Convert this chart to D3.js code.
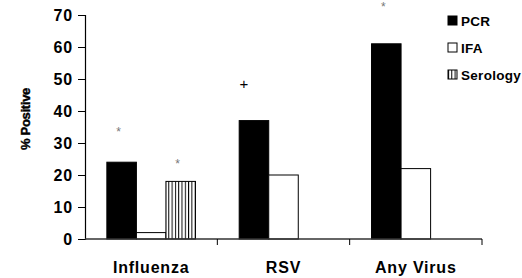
<!DOCTYPE html>
<html>
<head>
<meta charset="utf-8">
<script src="https://cdn.jsdelivr.net/npm/d3@7"></script>
<style>
  body { margin: 0; background: #fff; }
  text { font-family: "Liberation Sans", Arial, sans-serif; }
</style>
</head>
<body>
<div id="chart"></div>
<script>
var categories = ["Influenza", "RSV", "Any Virus"];
var seriesNames = ["PCR", "IFA", "Serology"];
var pcr = [24, 37, 61];
var ifa = [2, 20, 22];
var serology = [18, null, null];
var yTicks = [0, 10, 20, 30, 40, 50, 60, 70];
// significance marks: category, series, symbol, value level where the mark sits
var markCats = ["Influenza", "Influenza", "RSV", "Any Virus"];
var markSeries = ["PCR", "Serology", "PCR", "PCR"];
var markSymbols = ["*", "*", "+", "*"];
var markLevels = [34.4, 24.4, 48.4, 73.4];

var width = 522, height = 278;
var margin = {left: 85, right: 40, top: 15, bottom: 39};

var svg = d3.select("#chart").append("svg")
  .attr("width", width)
  .attr("height", height);

var defs = svg.append("defs");
var pat = defs.append("pattern")
  .attr("id", "stripes")
  .attr("patternUnits", "userSpaceOnUse")
  .attr("width", 3.3)
  .attr("height", 10);
pat.append("rect").attr("width", 3.3).attr("height", 10).attr("fill", "#fff");
pat.append("rect").attr("x", 0).attr("width", 1).attr("height", 10).attr("fill", "#000");

var x = d3.scaleBand()
  .domain(categories)
  .range([margin.left, 482]);

var xs = d3.scaleBand()
  .domain(seriesNames)
  .range([0, x.bandwidth()])
  .paddingOuter(0.74)
  .paddingInner(0);

var y = d3.scaleLinear()
  .domain([0, 70])
  .range([239, 15]);

var fills = {PCR: "#000", IFA: "#fff", Serology: "url(#stripes)"};

var rows = [];
categories.forEach(function(c, i){
  rows.push({cat: c, s: "PCR", v: pcr[i]});
  rows.push({cat: c, s: "IFA", v: ifa[i]});
  if (serology[i] != null) rows.push({cat: c, s: "Serology", v: serology[i]});
});

svg.selectAll("rect.bar")
  .data(rows)
  .enter()
  .append("rect")
  .attr("class", "bar")
  .attr("x", function(d){ return x(d.cat) + xs(d.s); })
  .attr("y", function(d){ return y(d.v); })
  .attr("width", xs.bandwidth())
  .attr("height", function(d){ return y(0) - y(d.v); })
  .attr("fill", function(d){ return fills[d.s]; })
  .attr("stroke", "#000")
  .attr("stroke-width", 1);

// y axis
var yAxis = svg.append("g")
  .attr("transform", "translate(" + margin.left + ",0)")
  .call(d3.axisLeft(y).tickValues(yTicks).tickSize(7).tickPadding(5));
yAxis.select(".domain").attr("stroke", "#000").attr("stroke-width", 1.2);
yAxis.selectAll("line").attr("stroke", "#000");
yAxis.selectAll("text")
  .attr("font-size", 16)
  .attr("font-weight", "bold")
  .attr("letter-spacing", 0.8)
  .attr("fill", "#000")
  .attr("font-family", "Liberation Sans, Arial, sans-serif");

// x axis
var xAxis = svg.append("g")
  .attr("transform", "translate(0," + y(0) + ")");
xAxis.append("line")
  .attr("x1", margin.left).attr("x2", 482)
  .attr("stroke", "#333").attr("stroke-width", 1.5);
var bounds = categories.map(function(c){ return x(c) + x.bandwidth(); });
xAxis.selectAll("line.tick")
  .data(bounds)
  .enter()
  .append("line")
  .attr("class", "tick")
  .attr("x1", function(d){ return d; })
  .attr("x2", function(d){ return d; })
  .attr("y1", 0).attr("y2", 6)
  .attr("stroke", "#000");
xAxis.selectAll("text")
  .data(categories)
  .enter()
  .append("text")
  .attr("x", function(d){ return x(d) + x.bandwidth() / 2; })
  .attr("y", 34)
  .attr("text-anchor", "middle")
  .attr("font-size", 16)
  .attr("letter-spacing", 0.8)
  .attr("font-weight", "bold")
  .text(function(d){ return d; });

// y label
svg.append("text")
  .attr("transform", "translate(30,119) rotate(-90)")
  .attr("text-anchor", "middle")
  .attr("font-size", 13)
  .attr("letter-spacing", -0.3)
  .attr("font-weight", "bold")
  .attr("stroke", "#000")
  .attr("stroke-width", 0.4)
  .text("% Positive");

// significance marks
var markRows = markSymbols.map(function(s, i){
  return {cat: markCats[i], s: markSeries[i], sym: s, v: markLevels[i]};
});
svg.selectAll("text.mark")
  .data(markRows)
  .enter()
  .append("text")
  .attr("class", "mark")
  .attr("x", function(d){ return x(d.cat) + xs(d.s) + xs.bandwidth() / 2 + (d.sym === "+" ? -10 : -3); })
  .attr("y", function(d){ return y(d.v) + (d.sym === "+" ? 5 : 7); })
  .attr("text-anchor", "middle")
  .attr("font-size", function(d){ return d.sym === "+" ? 15 : 12; })
  .attr("fill", function(d){ return d.sym === "+" ? "#000" : "#777"; })
  .text(function(d){ return d.sym; });

// legend
var legend = svg.append("g").attr("transform", "translate(448,16)");
var li = legend.selectAll("g")
  .data(seriesNames)
  .enter()
  .append("g")
  .attr("transform", function(d, i){ return "translate(0," + (i * 27) + ")"; });
li.append("rect")
  .attr("width", 9).attr("height", 9)
  .attr("fill", function(d){ return fills[d]; })
  .attr("stroke", "#000");
li.append("text")
  .attr("x", 13).attr("y", 9.5)
  .attr("font-size", 13.5)
  .attr("letter-spacing", 0.3)
  .attr("font-weight", "bold")
  .text(function(d){ return d; });
</script>
</body>
</html>
